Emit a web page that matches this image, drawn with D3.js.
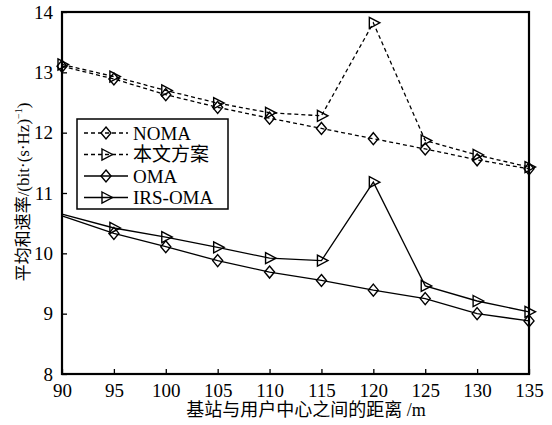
<!DOCTYPE html>
<html>
<head>
<meta charset="utf-8">
<script src="https://cdn.jsdelivr.net/npm/d3@7"></script>
<style>
html,body{margin:0;padding:0;background:#fff;}
svg{display:block;}
</style>
</head>
<body>
<svg id="chart" width="552" height="425"></svg>
<script>
const distances = [90, 95, 100, 105, 110, 115, 120, 125, 130, 135];
const nomaValues = [13.10, 12.89, 12.63, 12.42, 12.24, 12.07, 11.90, 11.73, 11.55, 11.40];
const proposedValues = [13.13, 12.93, 12.70, 12.49, 12.33, 12.28, 13.82, 11.87, 11.63, 11.43];
const omaValues = [10.62, 10.33, 10.11, 9.88, 9.69, 9.55, 9.39, 9.25, 9.00, 8.88];
const irsOmaValues = [10.65, 10.42, 10.27, 10.10, 9.92, 9.88, 11.18, 9.46, 9.21, 9.03];
const xTicks = [90, 95, 100, 105, 110, 115, 120, 125, 130, 135];
const yTicks = [8, 9, 10, 11, 12, 13, 14];
const seriesNames = ["NOMA", "本文方案", "OMA", "IRS-OMA"];

const series = [
  {name: seriesNames[0], values: nomaValues, dashed: true, marker: "diamond", from: 0},
  {name: seriesNames[1], values: proposedValues, dashed: true, marker: "triangle", from: 0},
  {name: seriesNames[2], values: omaValues, dashed: false, marker: "diamond", from: 1},
  {name: seriesNames[3], values: irsOmaValues, dashed: false, marker: "triangle", from: 1}
];

const svg = d3.select("#chart");
const L = 62, R = 529, T = 12, B = 374;
const x = d3.scaleLinear().domain([90, 135]).range([L, R]);
const y = d3.scaleLinear().domain([8, 14]).range([B, T]);
const serif = "'Liberation Serif','Times New Roman',serif";
const cjk = "'Liberation Serif','Noto Sans CJK SC',serif";

const diamondPath = "M0,-6L5,0L0,6L-5,0Z";
const trianglePath = "M-4,-5.5L6.5,0L-4,5.5Z";

function drawMarker(g, type, cx, cy) {
  g.append("path")
    .attr("d", type === "diamond" ? diamondPath : trianglePath)
    .attr("transform", `translate(${cx},${cy})`)
    .attr("fill", "none").attr("stroke", "#000").attr("stroke-width", 1.4);
}

// lines
const line = d3.line().x((d, i) => x(distances[i])).y(d => y(d));
const plot = svg.append("g");
series.forEach(s => {
  plot.append("path").datum(s.values)
    .attr("d", line)
    .attr("fill", "none").attr("stroke", "#000")
    .attr("stroke-width", 1.3)
    .attr("stroke-dasharray", s.dashed ? "4,3" : null);
});
series.forEach(s => {
  s.values.forEach((v, i) => {
    if (i >= s.from) drawMarker(plot, s.marker, x(distances[i]), y(v));
  });
});

// axes
const xAxis = d3.axisBottom(x).tickValues(xTicks).tickFormat(d3.format("d")).tickSizeInner(-5).tickSizeOuter(0).tickPadding(10);
const yAxis = d3.axisLeft(y).tickValues(yTicks).tickFormat(d3.format("d")).tickSizeInner(-5).tickSizeOuter(0).tickPadding(9);
const gx = svg.append("g").attr("transform", `translate(0,${B})`).call(xAxis);
const gy = svg.append("g").attr("transform", `translate(${L},0)`).call(yAxis);
[gx, gy].forEach(g => {
  g.select(".domain").remove();
  g.selectAll(".tick line").attr("stroke", "#000").attr("stroke-width", 1.3);
  g.selectAll(".tick text").attr("font-family", serif).attr("font-size", 19).attr("fill", "#000");
});
gx.selectAll(".tick text").attr("dy", "0.71em");

// frame
svg.append("rect").attr("x", L).attr("y", T).attr("width", R - L).attr("height", B - T)
  .attr("fill", "none").attr("stroke", "#000").attr("stroke-width", 2.2);

// axis titles
svg.append("text").attr("x", 306).attr("y", 416).attr("text-anchor", "middle")
  .attr("font-family", cjk).attr("font-size", 18).attr("fill", "#000")
  .text("基站与用户中心之间的距离 /m");

const yl = svg.append("text").attr("transform", "translate(29,192) rotate(-90)")
  .attr("text-anchor", "middle").attr("font-family", cjk).attr("font-size", 17).attr("fill", "#000");
yl.append("tspan").text("平均和速率/(bit·(s·Hz)");
yl.append("tspan").attr("dy", -7).attr("font-size", 10).text("−1");
yl.append("tspan").attr("dy", 7).text(")");

// legend
const lg = svg.append("g");
lg.append("rect").attr("x", 77).attr("y", 119).attr("width", 151).attr("height", 90)
  .attr("fill", "#fff").attr("stroke", "#000").attr("stroke-width", 1.5);
series.forEach((s, i) => {
  const cy = 133 + i * 21.5;
  lg.append("line").attr("x1", 84).attr("x2", 128).attr("y1", cy).attr("y2", cy)
    .attr("stroke", "#000").attr("stroke-width", 1.3)
    .attr("stroke-dasharray", s.dashed ? "4,3" : null);
  drawMarker(lg, s.marker, 106, cy);
  lg.append("text").attr("x", 133).attr("y", cy).attr("dy", "0.35em")
    .attr("font-family", cjk).attr("font-size", 19).attr("fill", "#000").text(s.name);
});
</script>
</body>
</html>
